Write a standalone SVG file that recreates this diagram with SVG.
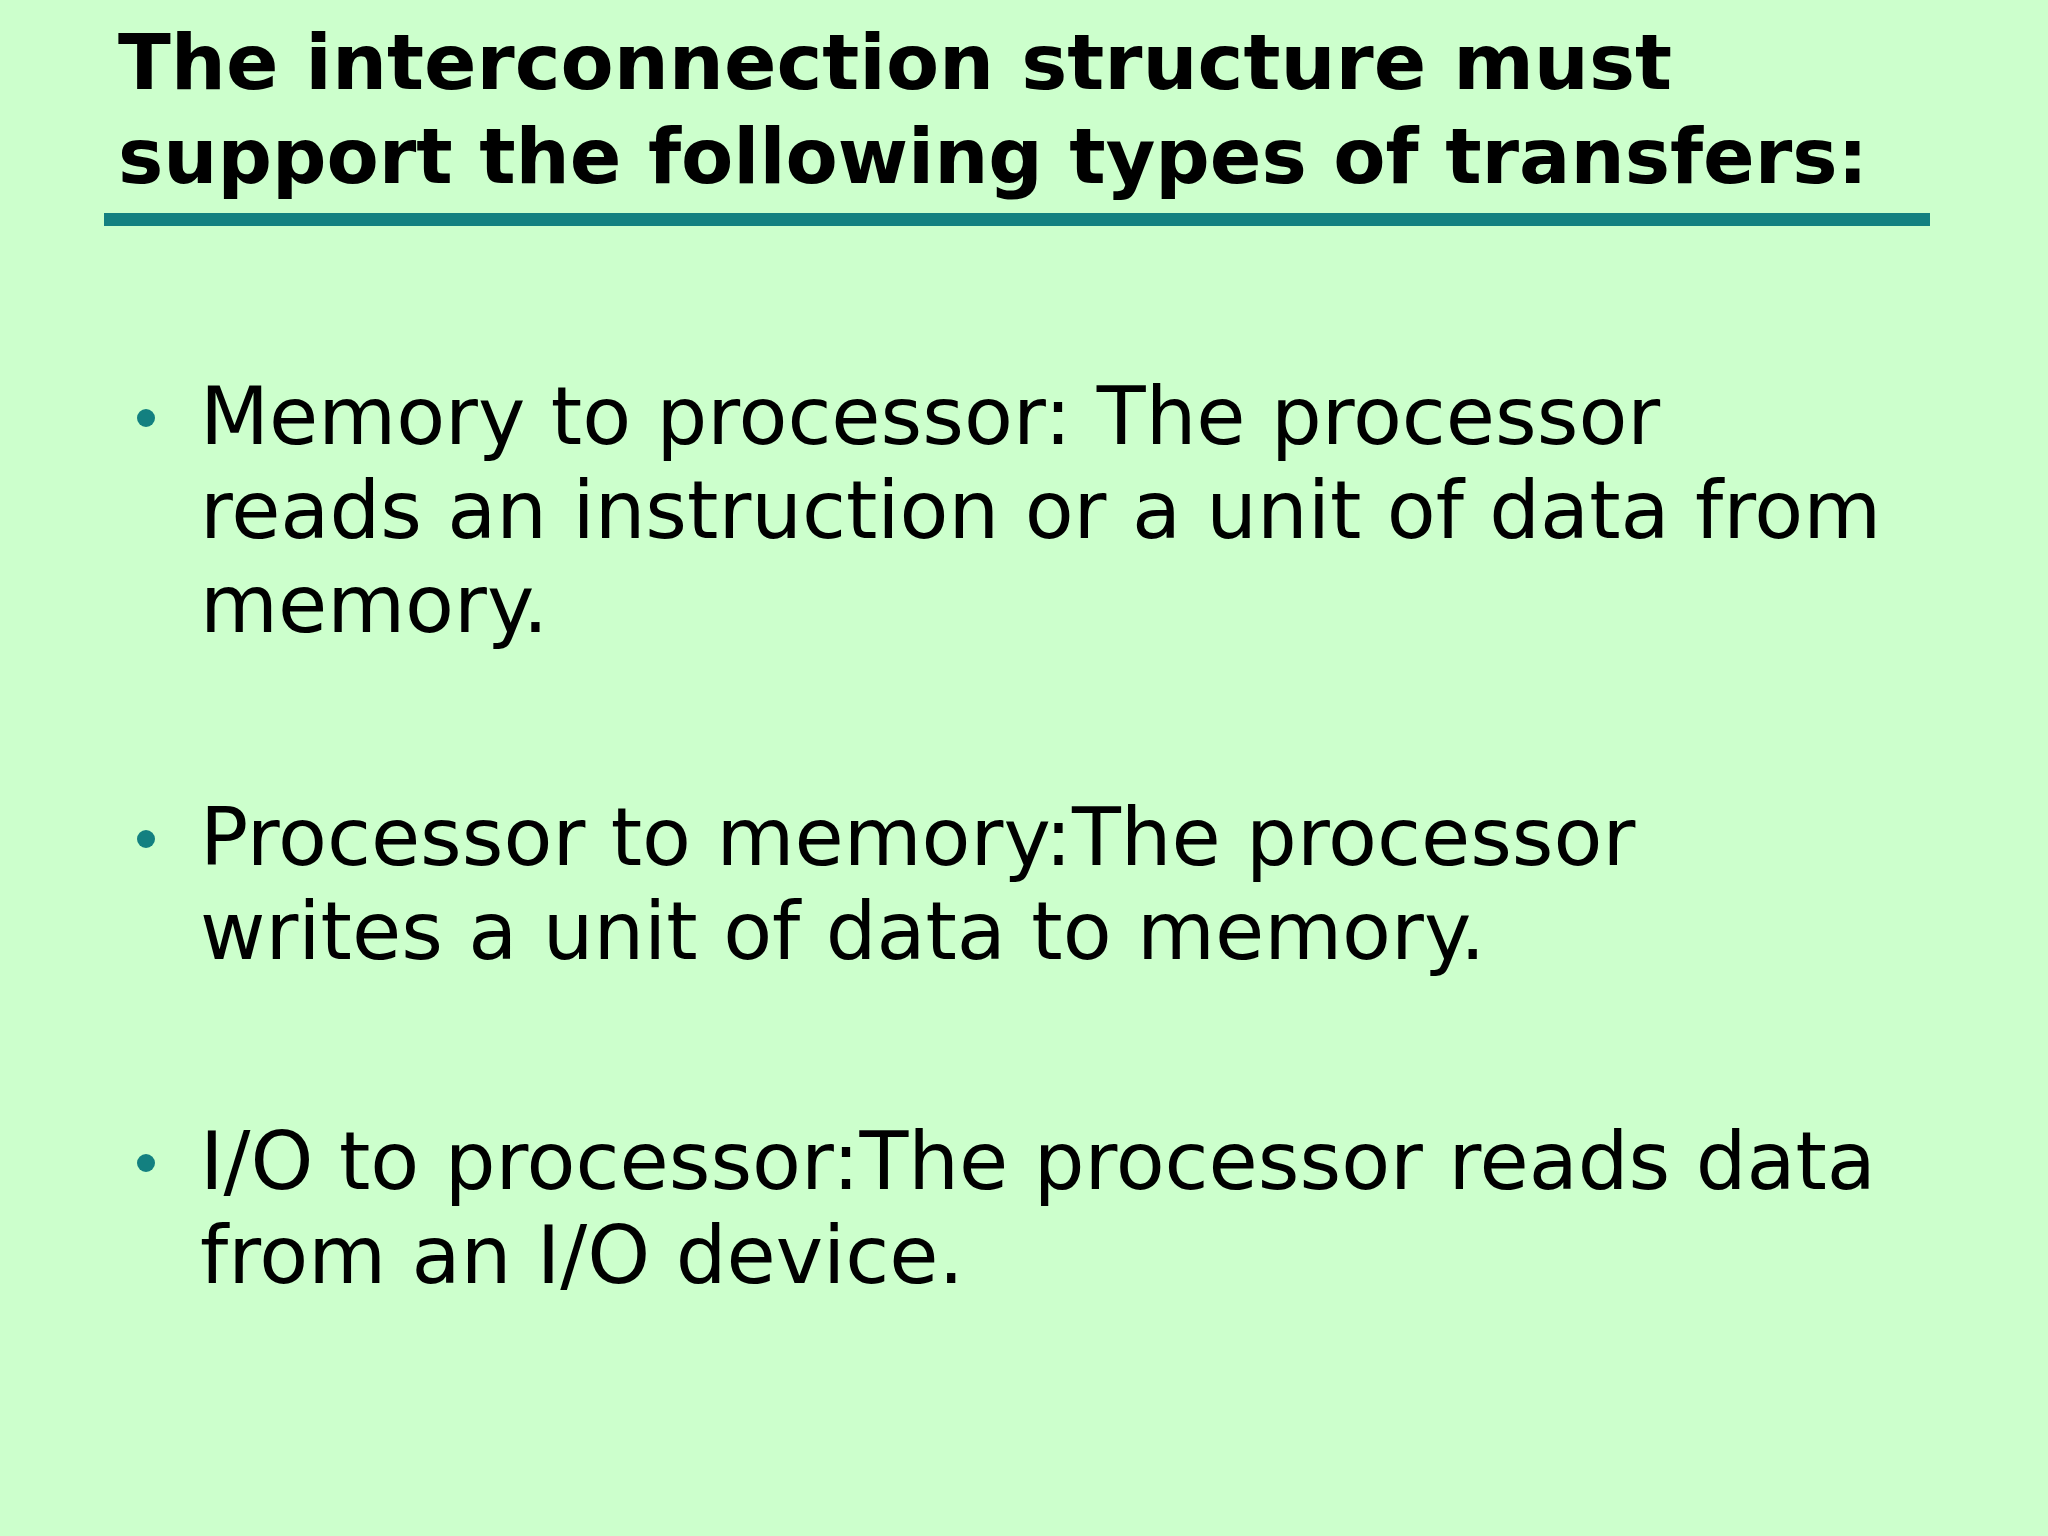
<svg xmlns="http://www.w3.org/2000/svg" width="2048" height="1536" viewBox="0 0 2048 1536">
<style>
.t{font-family:"DejaVu Sans","Liberation Sans",sans-serif;font-weight:bold;font-size:76px;fill:#000}
.b{font-family:"DejaVu Sans","Verdana",sans-serif;font-size:80px;fill:#000}
.d{fill:#138080}
</style>
<rect width="2048" height="1536" fill="#ccffcc"/>
<g id="title">
<text class="t" x="118" y="89" textLength="1554" lengthAdjust="spacingAndGlyphs">The interconnection structure must</text>
<text class="t" x="118" y="183" textLength="1750" lengthAdjust="spacingAndGlyphs">support the following types of transfers:</text>
<rect x="104" y="213" width="1826" height="13" class="d"/>
</g>
<g id="bullet1">
<circle cx="146" cy="418" r="9" class="d"/>
<text class="b" x="200" y="444">Memory to processor: The processor</text>
<text class="b" x="200" y="538">reads an instruction or a unit of data from</text>
<text class="b" x="200" y="632">memory.</text>
</g>
<g id="bullet2">
<circle cx="146" cy="839" r="9" class="d"/>
<text class="b" x="200" y="865">Processor to memory:The processor</text>
<text class="b" x="200" y="959">writes a unit of data to memory.</text>
</g>
<g id="bullet3">
<circle cx="146" cy="1163" r="9" class="d"/>
<text class="b" x="200" y="1189">I/O to processor:The processor reads data</text>
<text class="b" x="200" y="1283">from an I/O device.</text>
</g>
</svg>
